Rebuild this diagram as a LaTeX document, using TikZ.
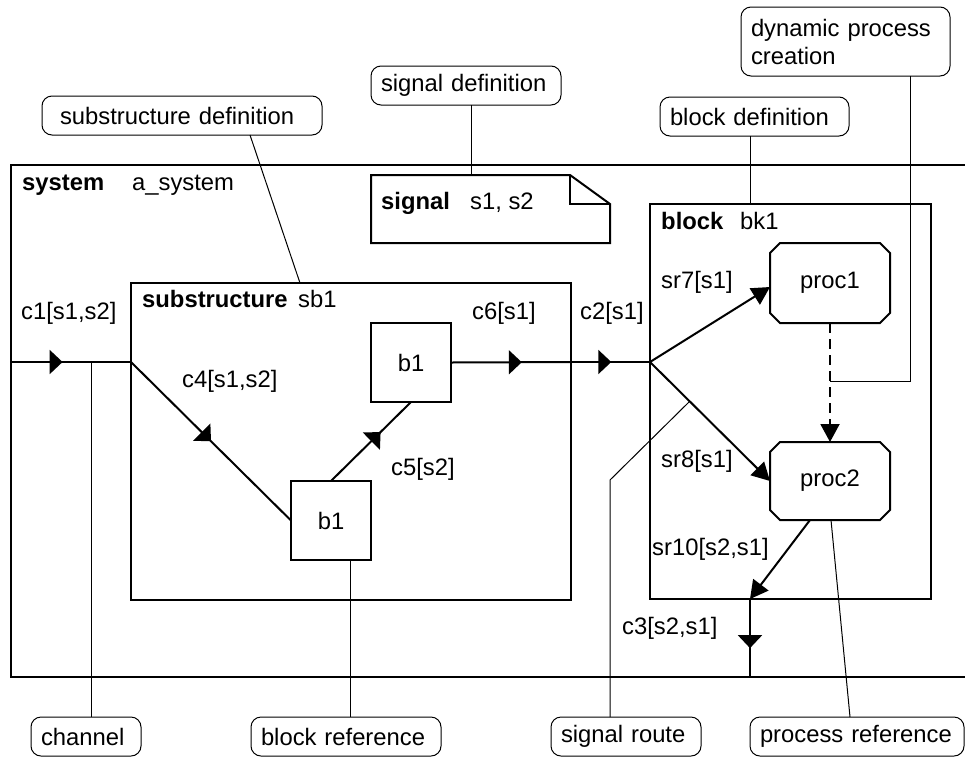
\documentclass[tikz,border=0pt]{standalone}
\usepackage{fontspec}
\setmainfont{Liberation Sans}
\usetikzlibrary{arrows.meta,decorations.markings,calc}
\begin{document}
\begin{tikzpicture}[x=1pt,y=-1pt,
  font=\fontsize{23.8}{28}\selectfont,
  box/.style={draw,line width=2pt,inner sep=0pt,outer sep=0pt},
  thinline/.style={line width=1pt},
  callout/.style={draw,line width=1pt,rounded corners=10pt,inner xsep=10pt,inner ysep=0pt,align=left,minimum height=39pt,anchor=north west,outer sep=0pt},
  lbl/.style={inner sep=0pt,anchor=mid west},
  chan/.style={line width=2pt},
  midarrow/.style={postaction={decorate},decoration={markings,mark=at position #1 with {\arrow{Triangle[length=13pt,width=24pt]}}}},
  endarrow/.style={-{Triangle[length=18pt,width=19pt]}},
]
\useasboundingbox (0,0) rectangle (965,758);
\clip (0,0) rectangle (965,758);

% main boxes
\node[box,anchor=north west,minimum width=1000pt,minimum height=512pt] (sys) at (11,165) {};
\node[box,anchor=north west,minimum width=440pt,minimum height=317pt] (sub) at (131,283) {};
\node[box,anchor=north west,minimum width=281pt,minimum height=395pt] (blk) at (650,204) {};
\node[box,minimum width=80pt,minimum height=79pt] (b1a) at (411,362.5) {b1};
\node[box,minimum width=80pt,minimum height=79pt] (b1b) at (331,520.5) {b1};

% processes
\node[inner sep=0pt,outer sep=0pt,minimum width=120pt,minimum height=80pt] (proc1) at (830,283) {proc1};
\node[inner sep=0pt,outer sep=0pt,minimum width=120pt,minimum height=78pt] (proc2) at (830,481) {proc2};
\foreach \p in {proc1,proc2}
  \draw[line width=2pt] ([xshift=10pt]\p.north west) -- ([xshift=-10pt]\p.north east) -- ([yshift=-10pt]\p.north east) -- ([yshift=10pt]\p.south east) -- ([xshift=-10pt]\p.south east) -- ([xshift=10pt]\p.south west) -- ([yshift=10pt]\p.south west) -- ([yshift=-10pt]\p.north west) -- cycle;

% signal box
\node[inner sep=0pt,outer sep=0pt,minimum width=239pt,minimum height=68pt] (sig) at (490.5,209) {};
\draw[line width=2pt] (sig.north west) -- ([xshift=-40pt]sig.north east) -- ([yshift=-29pt]sig.north east) -- (sig.south east) -- (sig.south west) -- cycle;
\draw[line width=2pt] ([xshift=-40pt]sig.north east) -- ([xshift=-40pt,yshift=-29pt]sig.north east) -- ([yshift=-29pt]sig.north east);

% labels
\node[lbl] (sysk) at (22,188) {\bfseries system};
\node[lbl] (sysn) at (132,188) {a\_system};
\node[lbl] (c1l) at (21,317) {c1[s1,s2]};
\node[lbl] (subk) at (142,305) {\bfseries substructure};
\node[lbl] (subn) at (298,305) {sb1};
\node[lbl] (c4l) at (182,385) {c4[s1,s2]};
\node[lbl] (c5l) at (391,473) {c5[s2]};
\node[lbl] (c6l) at (472,317) {c6[s1]};
\node[lbl] (c2l) at (580,317) {c2[s1]};
\node[lbl] (bkk) at (661,227) {\bfseries block};
\node[lbl] (bkn) at (740,227) {bk1};
\node[lbl] (sr7l) at (661,286) {sr7[s1]};
\node[lbl] (sr8l) at (661,465) {sr8[s1]};
\node[lbl] (sr10l) at (652,553) {sr10[s2,s1]};
\node[lbl] (c3l) at (622,632) {c3[s2,s1]};
\node[lbl] (sigk) at (381,207) {\bfseries signal};
\node[lbl] (sign) at (470,207) {s1, s2};

% channel points
\coordinate (c1a) at (11,362);
\coordinate (subin) at (131,362);
\coordinate (subout) at (571,362);
\coordinate (bkin) at (650,362);
\coordinate (bkout) at (750,599);
\coordinate (sysout) at (750,677);

% channels and routes
\draw[chan,midarrow=0.43] (c1a) -- (subin);
\draw[chan,midarrow=0.5] (subin) -- (b1b.west);
\draw[chan,midarrow=0.62] (b1b.north) -- (b1a.south);
\draw[chan,midarrow=0.59] (b1a.east) -- (subout);
\draw[chan,midarrow=0.51] (subout) -- (bkin);
\draw[chan,endarrow] (bkin) -- ([yshift=-4pt]proc1.west);
\draw[chan,endarrow] (bkin) -- (proc2.west);
\draw[chan,endarrow] ([xshift=-20pt]proc2.south) -- (bkout);
\draw[chan,midarrow=0.63] (bkout) -- (sysout);
\draw[chan,endarrow,dash pattern=on 10pt off 6pt] (proc1.south) -- (proc2.north);

% callouts
\node[callout,inner xsep=18pt,text width=244pt] (subdef) at (42,96) {substructure definition};
\node[callout,text width=170pt] (sigdef) at (371,66) {signal definition};
\node[callout,text width=169pt] (blkdef) at (660,97) {block definition};
\node[callout,text width=189pt,minimum height=69pt] (dyn) at (741,7) {dynamic process\\creation};
\node[callout,text width=90pt] (chref) at (31,717) {channel};
\node[callout,text width=170pt] (blkref) at (251,717) {block reference};
\node[callout,text width=130pt] (sigroute) at (551,717) {signal route};
\node[callout,text width=194pt] (procref) at (750,717) {process reference};

% callout connectors
\coordinate (c1tap) at (91,362);
\coordinate (srtap) at (690,401);
\coordinate (srbend) at (610,480);
\coordinate (dynend) at (830,381);
\draw[thinline] ([xshift=68pt]subdef.south) -- ([xshift=-51pt]sub.north);
\draw[thinline] ([xshift=5pt]sigdef.south) -- ([xshift=-19.5pt]sig.north);
\draw[thinline] ([xshift=-4.5pt]blkdef.south) -- ([xshift=-40.5pt]blk.north);
\draw[thinline] ([xshift=64.5pt]dyn.south) |- (dynend);
\draw[thinline] (c1tap) -- ([xshift=5pt]chref.north);
\draw[thinline] ([xshift=19pt]b1b.south) -- ([xshift=4pt]blkref.north);
\draw[thinline] (srtap) -- (srbend) -- ([xshift=-16pt]sigroute.north);
\draw[thinline] ([xshift=1pt]proc2.south) -- ([xshift=-7pt]procref.north);
\end{tikzpicture}
\end{document}
